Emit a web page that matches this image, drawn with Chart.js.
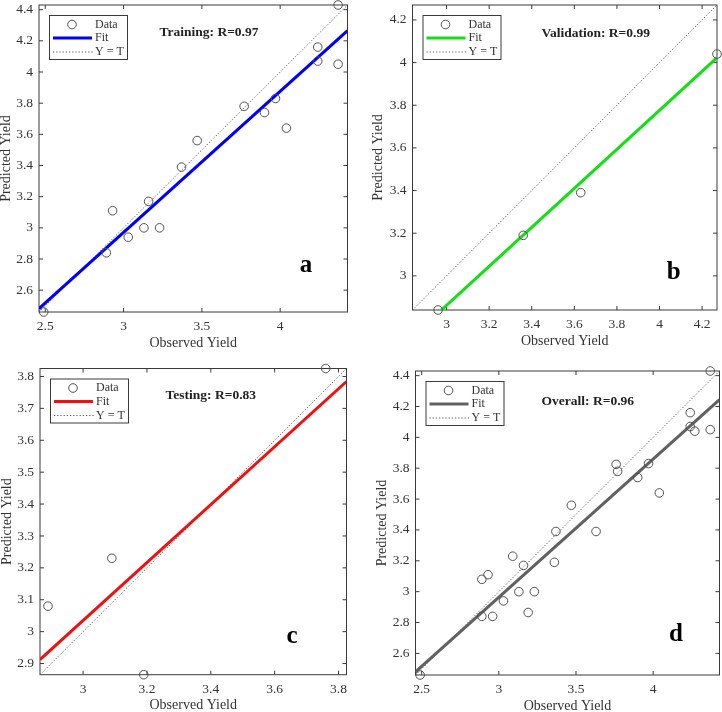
<!DOCTYPE html>
<html><head><meta charset="utf-8">
<script src="https://cdn.jsdelivr.net/npm/chart.js@4.4.1/dist/chart.umd.min.js"></script>
<style>
html,body{margin:0;padding:0;background:#fff;overflow:hidden;width:722px;height:712px;}
.p{position:absolute;}
canvas{display:block;}
</style></head><body>
<div class="p" style="left:0;top:0;"><canvas id="ca" width="361" height="356"></canvas></div>
<div class="p" style="left:361px;top:0;"><canvas id="cb" width="361" height="356"></canvas></div>
<div class="p" style="left:0;top:356px;"><canvas id="cc" width="361" height="362"></canvas></div>
<div class="p" style="left:361px;top:356px;"><canvas id="cd" width="361" height="362"></canvas></div>
<script>
// ---- Data ----
const trainObserved  = [2.49, 2.89, 2.93, 3.03, 3.13, 3.16, 3.23, 3.37, 3.47, 3.77, 3.90, 3.97, 4.04, 4.24, 4.24, 4.37, 4.37];
const trainPredicted = [2.46, 2.84, 3.11, 2.94, 3.00, 3.17, 3.00, 3.39, 3.56, 3.78, 3.74, 3.83, 3.64, 4.16, 4.07, 4.05, 4.43];
const valObserved    = [2.96, 3.36, 3.63, 4.27];
const valPredicted   = [2.84, 3.19, 3.39, 4.04];
const testObserved   = [2.89, 3.09, 3.19, 3.76];
const testPredicted  = [3.08, 3.23, 2.865, 3.825];
const allObserved    = trainObserved.concat(valObserved, testObserved);
const allPredicted   = trainPredicted.concat(valPredicted, testPredicted);

const panelTitles  = ['Training: R=0.97', 'Validation: R=0.99', 'Testing: R=0.83', 'Overall: R=0.96'];
const panelLetters = ['a', 'b', 'c', 'd'];
const fitSlopes     = [0.905, 0.914, 0.908, 0.895];
const fitIntercepts = [0.256, 0.120, 0.311, 0.279];

const ticksAD_x = [2.5, 3, 3.5, 4];
const ticksAD_y = [2.6, 2.8, 3, 3.2, 3.4, 3.6, 3.8, 4, 4.2, 4.4];
const ticksB_x  = [3, 3.2, 3.4, 3.6, 3.8, 4, 4.2];
const ticksB_y  = [3, 3.2, 3.4, 3.6, 3.8, 4, 4.2];
const ticksC_x  = [3, 3.2, 3.4, 3.6, 3.8];
const ticksC_y  = [2.9, 3, 3.1, 3.2, 3.3, 3.4, 3.5, 3.6, 3.7, 3.8];

// ---- Layout / style (canvas coordinates) ----
const panels = [
  {id:'ca', obs:trainObserved, pred:trainPredicted, xt:ticksAD_x, yt:ticksAD_y, color:'#0000ff',
   L:39, R:347.5, T:5, B:312, H:356, yTitleX:6.3, title:[209,33], letter:[306,272]},
  {id:'cb', obs:valObserved, pred:valPredicted, xt:ticksB_x, yt:ticksB_y, color:'#12e012',
   L:51.5, R:356, T:5, B:310, H:356, yTitleX:17.5, title:[234.7,33.3], letter:[312.7,279]},
  {id:'cc', obs:testObserved, pred:testPredicted, xt:ticksC_x, yt:ticksC_y, color:'#f01010',
   L:40, R:346.5, T:12.5, B:318.7, H:362, yTitleX:7, title:[210.8,39.3], letter:[292,287]},
  {id:'cd', obs:allObserved, pred:allPredicted, xt:ticksAD_x, yt:ticksAD_y, color:'#616161',
   L:54.5, R:358.5, T:15, B:319, H:362, yTitleX:21.7, title:[226.8,46], letter:[315,285]}
];

const TXT = '#333';
const FRAME = '#3a3a3a';
const FONT = '"Liberation Serif", "Times New Roman", serif';
Chart.defaults.font.family = FONT;
Chart.defaults.color = TXT;

const fmt = v => String(parseFloat(Number(v).toFixed(3)));

const framePlugin = {
  id: 'frame',
  beforeDatasetsDraw(chart) {
    const {ctx, chartArea: a, scales} = chart;
    ctx.save();
    ctx.strokeStyle = FRAME; ctx.lineWidth = 1;
    ctx.strokeRect(a.left, a.top, a.right - a.left, a.bottom - a.top);
    const tl = 4;
    ctx.beginPath();
    scales.x.ticks.forEach(t => {
      const px = scales.x.getPixelForValue(t.value);
      ctx.moveTo(px, a.bottom); ctx.lineTo(px, a.bottom - tl);
      ctx.moveTo(px, a.top); ctx.lineTo(px, a.top + tl);
    });
    scales.y.ticks.forEach(t => {
      const py = scales.y.getPixelForValue(t.value);
      ctx.moveTo(a.left, py); ctx.lineTo(a.left + tl, py);
      ctx.moveTo(a.right, py); ctx.lineTo(a.right - tl, py);
    });
    ctx.stroke();
    ctx.restore();
  }
};

const decorPlugin = {
  id: 'decor',
  afterDatasetsDraw(chart, args, opts) {
    const {ctx, chartArea: a} = chart;
    const p = opts.panel;
    ctx.save();
    // legend box
    const bx = a.left + 10, by = a.top + 10, bw = 78, bh = 44;
    ctx.fillStyle = '#fff';
    ctx.fillRect(bx, by, bw, bh);
    ctx.strokeStyle = FRAME; ctx.lineWidth = 1;
    ctx.strokeRect(bx + 0.5, by + 0.5, bw, bh);
    // marker
    ctx.strokeStyle = '#505050'; ctx.lineWidth = 1;
    ctx.beginPath(); ctx.arc(bx + 23, by + 9.5, 4.3, 0, Math.PI * 2); ctx.stroke();
    // fit line
    ctx.strokeStyle = p.color; ctx.lineWidth = 3;
    ctx.beginPath(); ctx.moveTo(bx + 4, by + 23); ctx.lineTo(bx + 43, by + 23); ctx.stroke();
    // dotted
    ctx.strokeStyle = '#555'; ctx.lineWidth = 1; ctx.setLineDash([1.2, 2]);
    ctx.beginPath(); ctx.moveTo(bx + 4, by + 37); ctx.lineTo(bx + 44, by + 37); ctx.stroke();
    ctx.setLineDash([]);
    ctx.fillStyle = TXT; ctx.font = '12px ' + FONT; ctx.textBaseline = 'middle'; ctx.textAlign = 'left';
    ctx.fillText('Data', bx + 46, by + 9.5);
    ctx.fillText('Fit', bx + 46, by + 23);
    ctx.fillText('Y = T', bx + 46, by + 37);
    // title
    ctx.fillStyle = '#222'; ctx.font = 'bold 13.5px ' + FONT; ctx.textAlign = 'center'; ctx.textBaseline = 'middle';
    ctx.fillText(opts.title, p.title[0], p.title[1]);
    // letter
    ctx.fillStyle = '#000'; ctx.font = 'bold 25px ' + FONT; ctx.textBaseline = 'alphabetic';
    ctx.fillText(opts.letter, p.letter[0], p.letter[1]);
    ctx.restore();
  }
};

panels.forEach((p, i) => {
  const lo = Math.min(...p.obs, ...p.pred);
  const hi = Math.max(...p.obs, ...p.pred);
  const pts = p.obs.map((x, k) => ({x, y: p.pred[k]}));
  const fit = [lo, hi].map(x => ({x, y: fitSlopes[i] * x + fitIntercepts[i]}));
  const ident = [lo, hi].map(x => ({x, y: x}));
  const zeroPad = s => { s.paddingLeft = 0; s.paddingRight = 0; s.paddingTop = 0; s.paddingBottom = 0; };
  new Chart(document.getElementById(p.id), {
    type: 'scatter',
    data: {
      datasets: [
        {label: 'Data', data: pts, showLine: false, pointStyle: 'circle', pointRadius: 4.3,
         pointBorderWidth: 1, pointBorderColor: '#505050', pointBackgroundColor: 'rgba(0,0,0,0)', clip: false, order: 0},
        {label: 'Fit', data: fit, showLine: true, borderColor: p.color, borderWidth: 3, pointRadius: 0, order: 1},
        {label: 'Y = T', data: ident, showLine: true, borderColor: '#555', borderWidth: 1,
         borderDash: [1.2, 2], pointRadius: 0, order: 2}
      ]
    },
    options: {
      responsive: false, animation: false, devicePixelRatio: 1,
      layout: {autoPadding: false, padding: {left: 0, top: p.T, right: 361 - p.R, bottom: p.H - p.B - 39.4}},
      plugins: {legend: {display: false}, tooltip: {enabled: false},
                decor: {panel: p, title: panelTitles[i], letter: panelLetters[i]}},
      scales: {
        x: {type: 'linear', position: 'bottom', min: lo, max: hi,
            grid: {display: false, drawTicks: false}, border: {display: false},
            afterBuildTicks: s => { s.ticks = p.xt.map(v => ({value: v})); },
            ticks: {padding: 6.5, color: TXT, font: {size: 13.5}, autoSkip: false, maxRotation: 0, callback: v => fmt(v)},
            title: {display: true, text: 'Observed Yield', color: TXT, font: {size: 14}, padding: 0},
            afterFit: s => { s.height = 39.4; zeroPad(s); }},
        y: {type: 'linear', position: 'left', min: lo, max: hi,
            grid: {display: false, drawTicks: false}, border: {display: false},
            afterBuildTicks: s => { s.ticks = p.yt.map(v => ({value: v})); },
            ticks: {padding: 6, color: TXT, font: {size: 13.5}, autoSkip: false, callback: v => fmt(v)},
            title: {display: true, text: 'Predicted Yield', color: TXT, font: {size: 14},
                    padding: {top: p.yTitleX - 8.4, bottom: 0}},
            afterFit: s => { s.width = p.L; zeroPad(s); }}
      }
    },
    plugins: [framePlugin, decorPlugin]
  });
});
</script>
</body></html>
